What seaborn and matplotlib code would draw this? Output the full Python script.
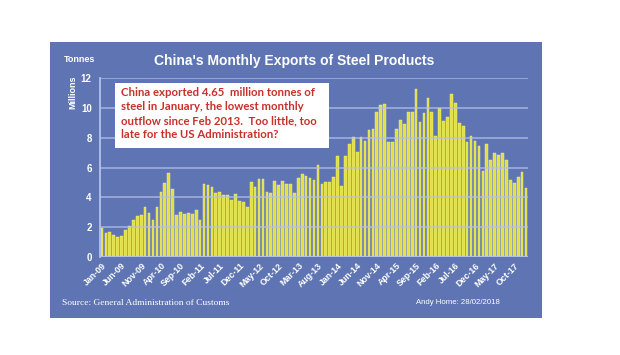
import matplotlib
matplotlib.use('Agg')
import matplotlib.pyplot as plt
import numpy as np
import pandas as pd
import seaborn as sns
from matplotlib.patches import Rectangle

# monthly steel product exports, million tonnes, Jan-09 .. Jan-18
exports_2009 = [1.94, 1.61, 1.68, 1.45, 1.32, 1.41, 1.79, 2.06, 2.48, 2.73, 2.84, 3.33]
exports_2010 = [2.95, 2.48, 3.33, 4.36, 4.96, 5.61, 4.58, 2.79, 3.02, 2.88, 2.93, 2.88]
exports_2011 = [3.13, 2.47, 4.87, 4.80, 4.69, 4.29, 4.38, 4.16, 4.16, 3.84, 4.20, 3.73]
exports_2012 = [3.69, 3.36, 5.00, 4.66, 5.22, 5.22, 4.35, 4.28, 5.12, 4.85, 5.11, 4.90]
exports_2013 = [4.89, 4.31, 5.32, 5.56, 5.41, 5.30, 5.15, 6.16, 4.92, 5.06, 5.00, 5.38]
exports_2014 = [6.79, 4.79, 6.77, 7.55, 8.07, 7.06, 8.04, 7.75, 8.50, 8.56, 9.73, 10.16]
exports_2015 = [10.28, 7.74, 7.71, 8.59, 9.19, 8.91, 9.74, 9.74, 11.26, 9.02, 9.63, 10.69]
exports_2016 = [9.74, 8.11, 9.98, 9.09, 9.41, 10.93, 10.30, 9.00, 8.80, 7.71, 8.09, 7.80]
exports_2017 = [7.42, 5.74, 7.55, 6.48, 6.95, 6.82, 6.95, 6.50, 5.14, 4.98, 5.34, 5.68]
exports_2018 = [4.65]

month_names = ['Jan', 'Feb', 'Mar', 'Apr', 'May', 'Jun',
               'Jul', 'Aug', 'Sep', 'Oct', 'Nov', 'Dec']
years = ['09', '10', '11', '12', '13', '14', '15', '16', '17', '18']

values = (exports_2009 + exports_2010 + exports_2011 + exports_2012 + exports_2013
          + exports_2014 + exports_2015 + exports_2016 + exports_2017 + exports_2018)
months = [f'{m}-{y}' for y in years for m in month_names][:len(values)]

df = pd.DataFrame({'month': months, 'exports': values})

blue = '#5F75B3'
grid_col = '#B3C1EC'
bar_col = '#E2E040'

sns.set_style('white')
plt.rcParams['font.family'] = ['Liberation Sans', 'DejaVu Sans']

fig = plt.figure(figsize=(6.2, 3.55), dpi=100)
panel = Rectangle((50 / 620, 1 - 318 / 355), 492 / 620, 276 / 355,
                  transform=fig.transFigure, facecolor=blue, edgecolor='none', zorder=-5)
fig.patches.append(panel)

ax = fig.add_axes([100 / 620, 1 - 257 / 355, 428 / 620, 179 / 355])
ax.set_zorder(1)
ax.set_facecolor(blue)
sns.barplot(data=df, x='month', y='exports', color=bar_col, width=0.68,
            saturation=1, edgecolor='#F2F09A', linewidth=0.3, ax=ax, zorder=2)

ax.set_ylim(0, 12)
ax.set_xlim(-0.5, len(values) - 0.5)
ax.set_yticks(np.arange(0, 13, 2))
ax.set_axisbelow(False)
ax.yaxis.grid(True, color=grid_col, linewidth=1.2, alpha=0.75, zorder=3)
for s in ['top', 'right', 'bottom']:
    ax.spines[s].set_visible(False)
ax.spines['left'].set_color(grid_col)
ax.spines['left'].set_linewidth(1.3)
ax.axhline(0, color=grid_col, linewidth=1.3, zorder=4)

ticks = list(range(0, len(values), 5))
ax.set_xticks(ticks)
ax.set_xticklabels([months[i] for i in ticks], rotation=45, ha='right',
                   rotation_mode='anchor', fontsize=6.4, fontweight='bold', color='white')
ax.tick_params(axis='x', length=0, pad=3)
ax.tick_params(axis='y', length=4, color=grid_col, labelsize=7, labelcolor='white', pad=2)
for t in ax.get_yticklabels():
    t.set_fontweight('bold')
ax.set_xlabel('')
ax.set_ylabel('Millions', color='white', fontsize=6.5, fontweight='bold')
ax.yaxis.set_label_coords(-0.052, 0.92)

fig.text(64 / 620, 1 - 60 / 355, 'Tonnes', color='white', fontsize=6.5,
         fontweight='bold', va='center')
fig.text(294 / 620, 1 - 61 / 355, "China's Monthly Exports of Steel Products",
         color='white', fontsize=10, fontweight='bold', ha='center', va='center')
fig.text(62 / 620, 1 - 303 / 355, 'Source: General Administration of Customs',
         color='white', fontsize=6.8, va='center', family='Liberation Serif')
fig.text(416 / 620, 1 - 302 / 355, 'Andy Home: 28/02/2018',
         color='white', fontsize=5.6, va='center')

box = Rectangle((115 / 620, 1 - 148 / 355), 214 / 620, 65 / 355,
                transform=fig.transFigure, facecolor='white', edgecolor='none', zorder=5)
fig.patches.append(box)
note = ('China exported 4.65  million tonnes of\n'
        'steel in January, the lowest monthly\n'
        'outflow since Feb 2013.  Too little, too\n'
        'late for the US Administration?')
fig.text(121 / 620, 1 - 87 / 355, note, color='#C8302C', fontsize=8.2,
         fontweight='bold', va='top', ha='left', linespacing=1.35,
         family=['Lato', 'DejaVu Sans'], zorder=6)

fig.savefig('out.png', dpi=100, facecolor='white')
